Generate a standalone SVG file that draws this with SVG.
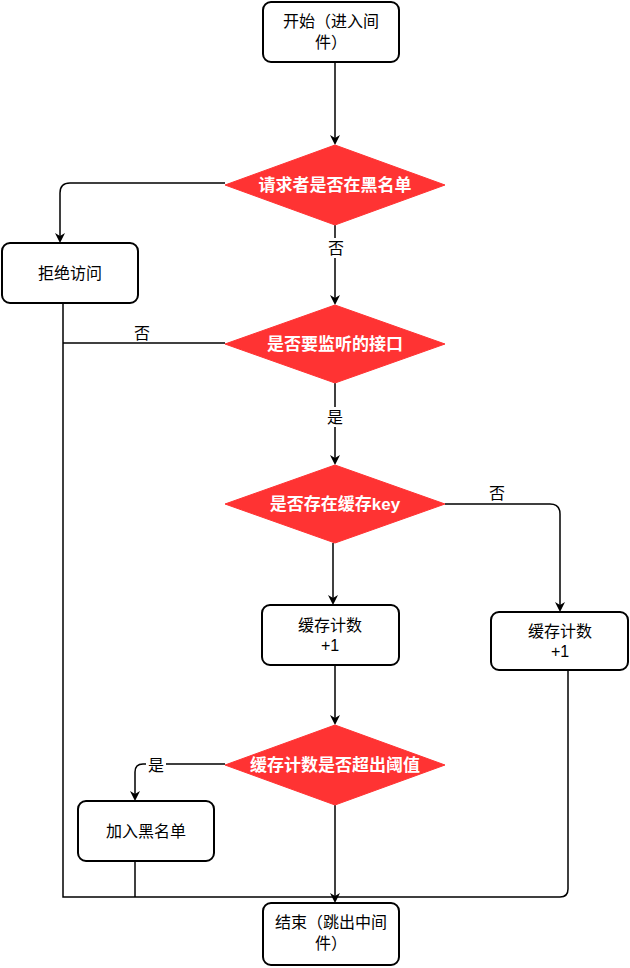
<svg xmlns="http://www.w3.org/2000/svg" width="630" height="968" viewBox="0 0 630 968">
<defs>
<marker id="a" markerWidth="10" markerHeight="10" refX="8" refY="5" orient="auto" markerUnits="userSpaceOnUse"><path d="M0,0 L10,5 L0,10 L3,5 Z" fill="#000"/></marker>
<style>
.b{fill:#fff;stroke:#000;stroke-width:2}
.d{fill:#ff3333;stroke:#ff3333}
.t{font-family:"Liberation Sans","Noto Sans CJK SC",sans-serif;font-size:16px;text-anchor:middle;fill:#000}
.w{font-family:"Liberation Sans","Noto Sans CJK SC",sans-serif;font-size:17px;font-weight:bold;text-anchor:middle;fill:#fff}
.c{fill:none;stroke:#000;stroke-width:1.5}
</style>
</defs>
<rect width="630" height="968" fill="#fff"/>
<g id="connectors">
<path class="c" d="M335,62 V143" marker-end="url(#a)"/>
<path class="c" d="M225,183 H70 Q60,183 60,193 V241" marker-end="url(#a)"/>
<path class="c" d="M335,225 V303" marker-end="url(#a)"/>
<path class="c" d="M225,343 H63"/>
<path class="c" d="M63,303 V897 H560 Q568,897 568,889 V670"/>
<path class="c" d="M335,383 V463" marker-end="url(#a)"/>
<path class="c" d="M445,504 H550 Q560,504 560,514 V610" marker-end="url(#a)"/>
<path class="c" d="M333,543 V603" marker-end="url(#a)"/>
<path class="c" d="M335,665 V723" marker-end="url(#a)"/>
<path class="c" d="M225,764 H143 Q135,764 135,772 V799" marker-end="url(#a)"/>
<path class="c" d="M135,861 V897"/>
<path class="c" d="M335,805 V901" marker-end="url(#a)"/>
<rect x="326" y="238" width="18" height="20" fill="#fff"/>
<text class="t" x="336" y="254">否</text>
<text class="t" x="142" y="339">否</text>
<rect x="326" y="407" width="18" height="20" fill="#fff"/>
<text class="t" x="335" y="423">是</text>
<text class="t" x="497" y="499">否</text>
<rect x="146" y="755" width="20" height="18" fill="#fff"/>
<text class="t" x="156" y="771">是</text>
</g>
<g id="start"><rect class="b" x="263" y="2" width="136" height="60" rx="8"/><text class="t" x="331" y="27">开始（进入间</text><text class="t" x="331" y="48">件）</text></g>
<g id="d1"><polygon class="d" points="225,185 335,145 445,185 335,225"/><text class="w" x="335" y="191">请求者是否在黑名单</text></g>
<g id="deny"><rect class="b" x="2" y="243" width="136" height="60" rx="8"/><text class="t" x="70" y="279">拒绝访问</text></g>
<g id="d2"><polygon class="d" points="225,344 335,305 445,344 335,383"/><text class="w" x="335" y="350">是否要监听的接口</text></g>
<g id="d3"><polygon class="d" points="225,504 335,465 445,504 335,543"/><text class="w" x="335" y="510">是否存在缓存key</text></g>
<g id="cnt1"><rect class="b" x="262" y="605" width="137" height="60" rx="8"/><text class="t" x="330" y="631">缓存计数</text><text class="t" x="330" y="651">+1</text></g>
<g id="cnt2"><rect class="b" x="491" y="612" width="137" height="58" rx="8"/><text class="t" x="560" y="637">缓存计数</text><text class="t" x="560" y="657">+1</text></g>
<g id="d4"><polygon class="d" points="225,765 335,725 445,765 335,805"/><text class="w" x="335" y="771">缓存计数是否超出阈值</text></g>
<g id="black"><rect class="b" x="78" y="801" width="136" height="60" rx="8"/><text class="t" x="146" y="837">加入黑名单</text></g>
<g id="end"><rect class="b" x="263" y="903" width="136" height="62" rx="8"/><text class="t" x="331" y="928">结束（跳出中间</text><text class="t" x="331" y="949">件）</text></g>
</svg>
